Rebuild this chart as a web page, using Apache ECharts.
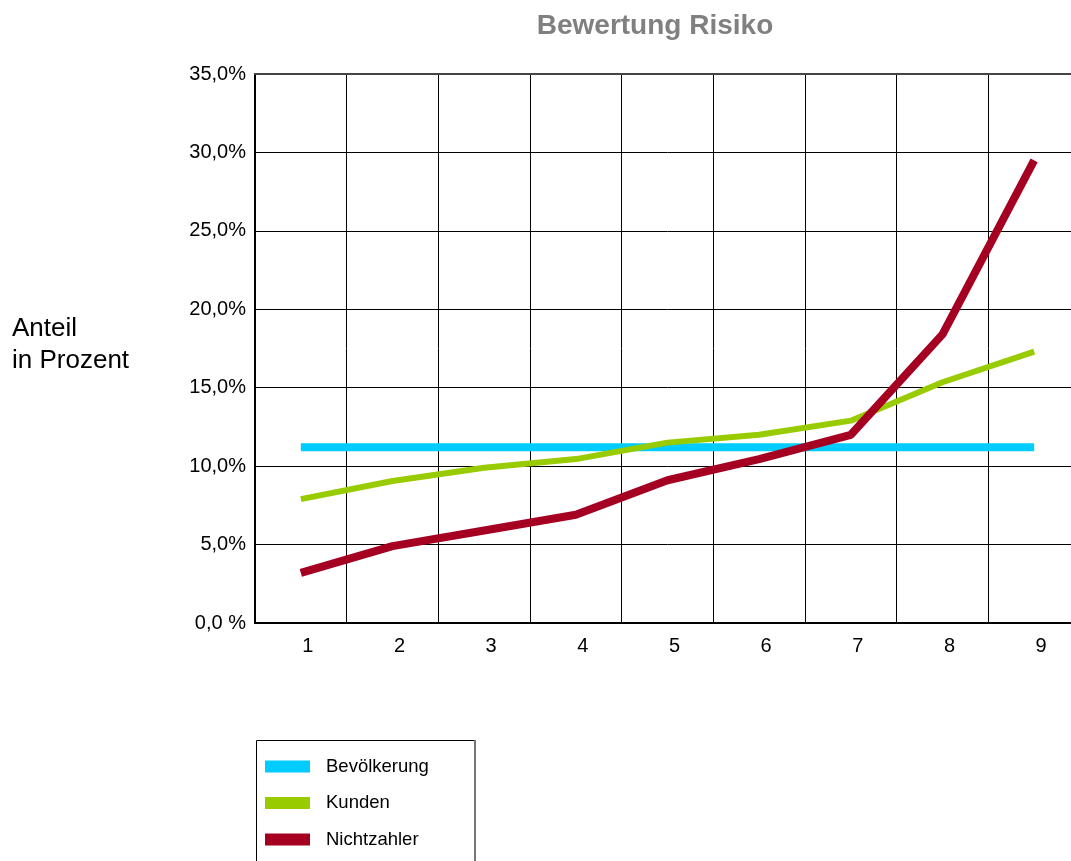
<!DOCTYPE html>
<html>
<head>
<meta charset="utf-8">
<title>Bewertung Risiko</title>
<script src="https://cdn.jsdelivr.net/npm/echarts@6/dist/echarts.min.js"></script>
<style>
  html, body { margin: 0; padding: 0; background: #fff; overflow: hidden; }
  /* the plot runs a little past the right edge of the window */
  #chart { width: 1090px; height: 861px; }
</style>
</head>
<body>
<div id="chart"></div>
<script>
// Risk classes 1..9
var categories = ['1', '2', '3', '4', '5', '6', '7', '8', '9'];

// Share per risk class, in percent
var bevoelkerung = [11.2, 11.2, 11.2, 11.2, 11.2, 11.2, 11.2, 11.2, 11.2];
var kunden       = [7.9, 9.05, 9.9, 10.45, 11.5, 12.0, 12.9, 15.35, 17.3];
var nichtzahler  = [3.2, 4.9, 5.9, 6.9, 9.1, 10.45, 12.0, 18.4, 29.5];

// Y axis tick labels, one per 5 % step
var yTickLabels = ['0,0 %', '5,0%', '10,0%', '15,0%', '20,0%', '25,0%', '30,0%', '35,0%'];

var font = '"Liberation Sans", Arial, sans-serif';

var chart = echarts.init(document.getElementById('chart'), null, { renderer: 'canvas' });

chart.setOption({
  backgroundColor: '#ffffff',
  animation: false,
  title: {
    text: 'Bewertung Risiko',
    left: 650,
    textAlign: 'center',
    top: 7,
    textStyle: { fontFamily: font, fontSize: 28, fontWeight: 'bold', color: '#808080' }
  },
  graphic: [
    {
      type: 'text',
      left: 12,
      top: 313,
      style: {
        text: 'Anteil\nin Prozent',
        font: '26px ' + font,
        fill: '#000',
        lineHeight: 32
      }
    },
    {
      type: 'rect',
      shape: { x: 256.5, y: 740.5, width: 218, height: 140 },
      style: { fill: 'none', stroke: '#000', lineWidth: 1 },
      z: 0
    },
    {
      type: 'line',
      shape: { x1: 475, y1: 740, x2: 475, y2: 861 },
      style: { stroke: '#777', lineWidth: 2 },
      z: 1
    }
  ],
  legend: {
    left: 265,
    top: 756,
    orient: 'vertical',
    icon: 'rect',
    itemWidth: 45,
    itemHeight: 12,
    itemGap: 15.5,
    padding: 0,
    textStyle: { fontFamily: font, fontSize: 18.5, color: '#000', lineHeight: 21, padding: [0, 0, 0, 11] },
    data: ['Bevölkerung', 'Kunden', 'Nichtzahler']
  },
  grid: {
    left: 255,
    top: 74,
    width: 825,
    height: 549,
    containLabel: false
  },
  xAxis: [
    {
      type: 'category',
      data: categories,
      boundaryGap: true,
      axisLine: { show: true, lineStyle: { color: '#000', width: 2 } },
      axisTick: { show: false },
      axisLabel: {
        fontFamily: font, fontSize: 20, color: '#000', margin: 13,
        padding: [0, 0, 0, 14]
      },
      splitLine: { show: true, lineStyle: { color: '#000', width: 1 } }
    },
    {
      type: 'category',
      position: 'top',
      data: categories,
      axisLine: { show: true, lineStyle: { color: '#444', width: 2 } },
      axisTick: { show: false },
      axisLabel: { show: false },
      splitLine: { show: false }
    }
  ],
  yAxis: {
    type: 'value',
    min: 0,
    max: 35,
    interval: 5,
    axisLine: { show: true, lineStyle: { color: '#000', width: 2 } },
    axisTick: { show: false },
    axisLabel: {
      fontFamily: font, fontSize: 20, color: '#000', margin: 9,
      formatter: function (v) { return yTickLabels[Math.round(v / 5)]; }
    },
    splitLine: { show: true, lineStyle: { color: '#000', width: 1 } }
  },
  series: [
    {
      name: 'Bevölkerung',
      type: 'line',
      data: bevoelkerung,
      showSymbol: false,
      symbol: 'none',
      color: '#00CCFF',
      lineStyle: { color: '#00CCFF', width: 8, cap: 'butt' },
      z: 3
    },
    {
      name: 'Kunden',
      type: 'line',
      data: kunden,
      showSymbol: false,
      symbol: 'none',
      color: '#99CC00',
      lineStyle: { color: '#99CC00', width: 6, cap: 'butt' },
      z: 4
    },
    {
      name: 'Nichtzahler',
      type: 'line',
      data: nichtzahler,
      showSymbol: false,
      symbol: 'none',
      color: '#A50021',
      lineStyle: { color: '#A50021', width: 8, cap: 'butt' },
      z: 5
    }
  ]
});
</script>
</body>
</html>
